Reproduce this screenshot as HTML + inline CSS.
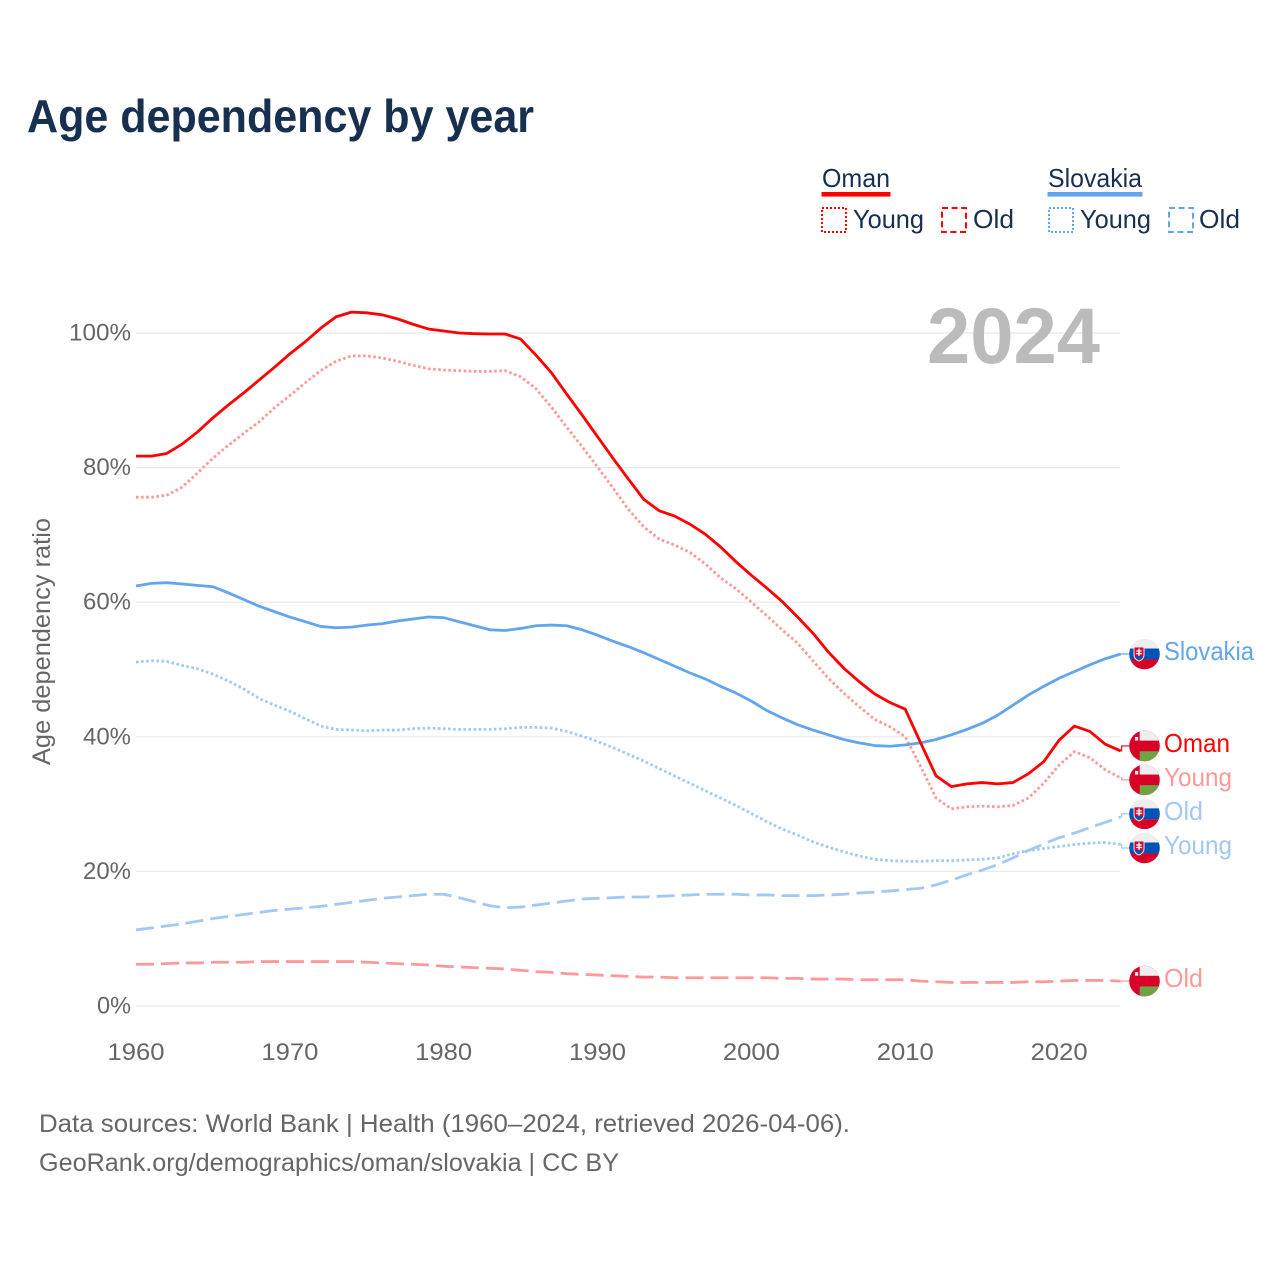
<!DOCTYPE html>
<html lang="en">
<head>
<meta charset="utf-8">
<title>Age dependency by year</title>
<style>
html,body{margin:0;padding:0;background:#fff;}
svg{display:block;font-family:"Liberation Sans",Arial,sans-serif;}
</style>
</head>
<body>
<svg id="chart" xmlns="http://www.w3.org/2000/svg" width="1280" height="1280" viewBox="0 0 1280 1280">
  <defs>
    <clipPath id="flag-clip"><circle cx="0" cy="0" r="15.3"/></clipPath>
    <g id="flag-slovakia" clip-path="url(#flag-clip)">
      <rect x="-16" y="-16" width="32" height="10.5" fill="#eeeeee"/>
      <rect x="-16" y="-5.5" width="32" height="11" fill="#0052b4"/>
      <rect x="-16" y="5.5" width="32" height="11" fill="#d80027"/>
      <path d="M-10.5,-7 H-0.5 V1 Q-0.5,5 -5.5,7 Q-10.5,5 -10.5,1 Z" fill="#d80027" stroke="#eeeeee" stroke-width="1"/>
      <path d="M-6.3,-5.5 H-4.7 V-3.8 H-2.8 V-2.4 H-4.7 V-1.2 H-2.4 V0.2 H-4.7 V2 H-6.3 V0.2 H-8.6 V-1.2 H-6.3 V-2.4 H-8.2 V-3.8 H-6.3 Z" fill="#eeeeee"/>
      <path d="M-9.5,3 Q-5.5,0.5 -1.5,3 Q-3,5.5 -5.5,6.5 Q-8,5.5 -9.5,3 Z" fill="#0052b4"/>
    </g>
    <g id="flag-oman" clip-path="url(#flag-clip)">
      <rect x="-16" y="-16" width="32" height="32" fill="#d80027"/>
      <rect x="-4.8" y="-16" width="21" height="10.7" fill="#eeeeee"/>
      <rect x="-4.8" y="5.3" width="21" height="11" fill="#6da544"/>
      <rect x="-9.5" y="-9" width="3.2" height="3.6" fill="#eeeeee"/>
    </g>
  </defs>
</svg>
<script>
// Chart data
const years = [1960,1961,1962,1963,1964,1965,1966,1967,1968,1969,1970,1971,1972,1973,1974,1975,1976,1977,1978,1979,1980,1981,1982,1983,1984,1985,1986,1987,1988,1989,1990,1991,1992,1993,1994,1995,1996,1997,1998,1999,2000,2001,2002,2003,2004,2005,2006,2007,2008,2009,2010,2011,2012,2013,2014,2015,2016,2017,2018,2019,2020,2021,2022,2023,2024];
const omanTotal = [81.7,81.7,82.1,83.5,85.3,87.4,89.3,91.1,93.0,94.9,96.9,98.7,100.7,102.4,103.1,103.0,102.7,102.1,101.3,100.6,100.3,100.0,99.9,99.85,99.85,99.1,96.7,94.1,90.9,87.8,84.6,81.4,78.3,75.3,73.6,72.8,71.6,70.1,68.2,66.0,64.0,62.1,60.1,57.8,55.4,52.6,50.2,48.2,46.4,45.1,44.1,39.1,34.2,32.6,33.0,33.2,33.0,33.2,34.5,36.3,39.5,41.6,40.8,38.9,37.9];
const omanYoung = [75.6,75.6,75.9,77.1,79.2,81.4,83.3,85.1,86.8,88.9,90.7,92.6,94.4,95.8,96.6,96.6,96.3,95.8,95.2,94.7,94.5,94.4,94.3,94.3,94.4,93.5,91.7,89.0,86.0,83.1,80.1,77.0,73.8,71.2,69.4,68.5,67.4,65.7,63.6,62.0,60.0,58.0,55.9,53.9,51.3,48.7,46.5,44.5,42.6,41.5,40.0,35.6,30.9,29.3,29.6,29.7,29.6,29.8,30.9,33.1,35.8,37.8,36.9,35.1,33.9];
const omanOld = [6.2,6.2,6.3,6.4,6.4,6.5,6.5,6.5,6.6,6.6,6.6,6.6,6.6,6.6,6.6,6.5,6.4,6.3,6.2,6.1,5.9,5.8,5.7,5.6,5.5,5.3,5.1,5.0,4.8,4.7,4.6,4.5,4.4,4.3,4.3,4.2,4.2,4.2,4.2,4.2,4.2,4.2,4.1,4.1,4.0,4.0,4.0,3.9,3.9,3.9,3.9,3.7,3.6,3.5,3.5,3.5,3.5,3.5,3.6,3.6,3.7,3.8,3.8,3.8,3.7];
const slovakiaTotal = [62.4,62.8,62.9,62.7,62.5,62.3,61.4,60.4,59.4,58.6,57.8,57.1,56.4,56.2,56.3,56.6,56.8,57.2,57.5,57.8,57.7,57.1,56.5,55.9,55.8,56.1,56.5,56.6,56.5,55.9,55.1,54.2,53.4,52.5,51.5,50.5,49.5,48.6,47.5,46.5,45.3,43.9,42.8,41.8,41.0,40.3,39.6,39.1,38.7,38.6,38.8,39.1,39.6,40.3,41.1,42.0,43.2,44.7,46.2,47.5,48.7,49.7,50.7,51.6,52.3];
const slovakiaYoung = [51.1,51.3,51.2,50.6,50.1,49.3,48.3,47.1,45.7,44.7,43.8,42.7,41.6,41.1,41.0,40.9,41.0,41.0,41.2,41.3,41.2,41.1,41.1,41.1,41.2,41.4,41.4,41.3,40.8,40.1,39.3,38.4,37.4,36.4,35.3,34.2,33.1,32.0,30.9,29.8,28.6,27.4,26.3,25.4,24.4,23.6,22.9,22.3,21.8,21.6,21.5,21.5,21.6,21.6,21.7,21.8,22.0,22.6,23.1,23.4,23.7,24.0,24.2,24.3,24.0];
const slovakiaOld = [11.3,11.6,11.9,12.2,12.6,13.0,13.3,13.6,13.9,14.2,14.4,14.6,14.8,15.1,15.4,15.7,16.0,16.2,16.4,16.6,16.6,16.1,15.5,14.9,14.6,14.7,15.0,15.3,15.6,15.9,16.0,16.1,16.2,16.2,16.3,16.4,16.5,16.6,16.6,16.6,16.5,16.5,16.4,16.4,16.4,16.5,16.6,16.8,16.9,17.1,17.3,17.5,18.0,18.7,19.5,20.2,21.0,22.0,23.1,24.1,25.0,25.7,26.5,27.3,28.1];
const yTicks = [0,20,40,60,80,100];
const xTicks = [1960,1970,1980,1990,2000,2010,2020];

const NS = 'http://www.w3.org/2000/svg';
const svg = document.getElementById('chart');
const RED = '#ff0000', RED_LIGHT = '#ff9999', BLUE = '#62a5ee', BLUE_LIGHT = '#a1c9f4';
const INK = '#17304f', MUTED = '#666666';

function xScale(year) { return 136 + (year - 1960) * 15.385; }
function yScale(v) { return 1006 - v * 6.73; }

function make(tag, attrs, parent) {
  const el = document.createElementNS(NS, tag);
  for (const k in attrs) el.setAttribute(k, attrs[k]);
  (parent || svg).appendChild(el);
  return el;
}
function text(str, x, y, size, fill, width, anchor, weight, parent) {
  const el = make('text', {x: x, y: y, 'font-size': size, fill: fill, 'text-anchor': anchor || 'start', 'font-weight': weight || 'normal', textLength: width, lengthAdjust: 'spacingAndGlyphs'}, parent);
  el.textContent = str;
  return el;
}

// Title
const titleEl = text('Age dependency by year', 27, 132, 46, INK, 507, 'start', 'bold');



// Grid and y axis ticks
yTicks.forEach(function (v) {
  const grid = make('line', {x1: 136, x2: 1120, y1: yScale(v), y2: yScale(v), stroke: '#e8e8e8', 'stroke-width': 1.2});
  
  
  const str = v + '%';
  const tick = text(str, 131, yScale(v) + 7.5, 24, MUTED, (str.length - 1) * 14 + 20, 'end');
  
  
});

// X axis ticks
xTicks.forEach(function (year) {
  const tick = text(String(year), xScale(year), 1060, 24, MUTED, 57, 'middle');
  
  
});

// Y axis title
const yTitle = text('Age dependency ratio', 0, 0, 25, MUTED, 247, 'middle');
yTitle.setAttribute('transform', 'translate(50,641.5) rotate(-90)');



// Year watermark
const yearMark = text('2024', 927, 363, 79, '#bbbbbb', 173, 'start', 'bold');



// Series
const seriesList = [
  {key: 'oman-old', values: omanOld, color: RED_LIGHT, dash: '18 7', flag: 'flag-oman', label: 'Old', labelWidth: 39, offset: 0},
  {key: 'slovakia-old', values: slovakiaOld, color: BLUE_LIGHT, dash: '18 7', flag: 'flag-slovakia', label: 'Old', labelWidth: 39, offset: -3},
  {key: 'slovakia-young', values: slovakiaYoung, color: BLUE_LIGHT, dash: '2.6 2.5', flag: 'flag-slovakia', label: 'Young', labelWidth: 68, offset: 3.5},
  {key: 'oman-young', values: omanYoung, color: RED_LIGHT, dash: '2.6 2.5', flag: 'flag-oman', label: 'Young', labelWidth: 68, offset: 2},
  {key: 'slovakia-total', values: slovakiaTotal, color: BLUE, dash: '', flag: 'flag-slovakia', label: 'Slovakia', labelWidth: 90, offset: 0},
  {key: 'oman-total', values: omanTotal, color: RED, dash: '', flag: 'flag-oman', label: 'Oman', labelWidth: 66, offset: -5}
];

seriesList.forEach(function (s) {
  const d = s.values.map(function (v, i) {
    return (i ? 'L' : 'M') + xScale(years[i]).toFixed(2) + ',' + yScale(v).toFixed(2);
  }).join(' ');
  const path = make('path', {d: d, fill: 'none', stroke: s.color, 'stroke-width': 2.8, 'stroke-linejoin': 'round'});
  if (s.dash) path.setAttribute('stroke-dasharray', s.dash);
  
  

  const endX = xScale(years[years.length - 1]);
  const endY = yScale(s.values[s.values.length - 1]);
  const labelY = endY + s.offset;

  const connector = make('path', {d: 'M' + endX + ',' + endY + ' L' + (endX + 1) + ',' + endY + ' L' + (endX + 1) + ',' + labelY + ' L1132,' + labelY, fill: 'none', stroke: s.color, 'stroke-width': 1.2});
  
  

  const flag = make('use', {href: '#' + s.flag, x: 1144.5, y: labelY});
  
  

  const label = text(s.label, 1164, labelY + 6, 26, s.color, s.labelWidth);
  
  
});

// Legend
const legendColumns = [
  {name: 'Oman', color: RED, x: 822, nameWidth: 68, lineWidth: 69, youngBox: 821, youngText: 853, oldBox: 941, oldText: 973},
  {name: 'Slovakia', color: BLUE, x: 1048, nameWidth: 94, lineWidth: 95, youngBox: 1048, youngText: 1080, oldBox: 1168, oldText: 1199}
];
legendColumns.forEach(function (c) {
  const id = c.name.toLowerCase();
  const head = text(c.name, c.x, 187, 26, INK, c.nameWidth);
  
  
  const bar = make('rect', {x: c.x - 0.5, y: 192, width: c.lineWidth, height: 4.6, fill: c.color});
  
  

  const boxY = make('rect', {x: c.youngBox + 1, y: 208, width: 24, height: 24, fill: 'none', stroke: c.color, 'stroke-width': 2, 'stroke-dasharray': '2 2'});
  
  
  const young = text('Young', c.youngText, 228, 26, INK, 71);
  
  

  const boxO = make('rect', {x: c.oldBox + 1, y: 208, width: 24, height: 24, fill: 'none', stroke: c.color, 'stroke-width': 2, 'stroke-dasharray': '6 3.6'});
  
  
  const old = text('Old', c.oldText, 228, 26, INK, 41);
  
  
});

// Footer
const foot1 = text('Data sources: World Bank | Health (1960\u20132024, retrieved 2026-04-06).', 39, 1132, 25, MUTED, 811);


const foot2 = text('GeoRank.org/demographics/oman/slovakia | CC BY', 39, 1171, 25, MUTED, 580);


</script>
</body>
</html>
